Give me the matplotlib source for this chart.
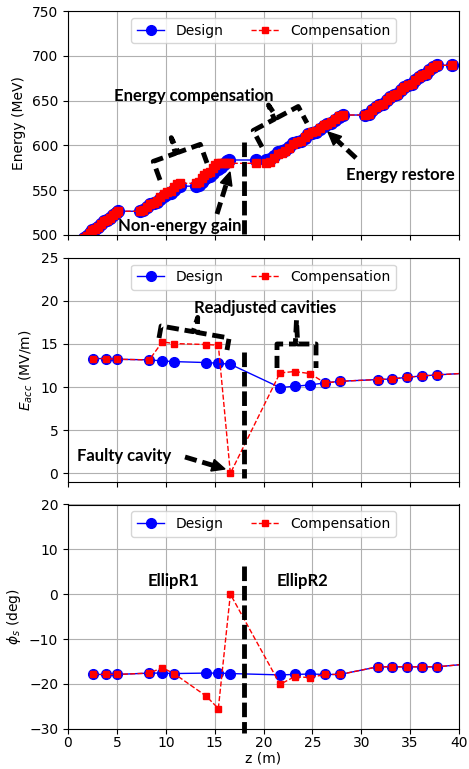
import numpy as np
import matplotlib.pyplot as plt
from matplotlib.lines import Line2D
from matplotlib.patches import Polygon

# cavity positions (m) and field / phase settings
cav_z = [2.59, 3.85, 5.05, 8.32, 9.65, 10.84, 14.12, 15.38, 16.61,
         21.69, 23.19, 24.76, 26.29, 27.83, 31.68, 33.18, 34.71, 36.25, 37.75, 41.2]
eacc_design = [13.3, 13.3, 13.22, 13.15, 13.03, 12.95, 12.84, 12.76, 12.64,
               9.94, 10.09, 10.25, 10.48, 10.67, 10.87, 10.94, 11.14, 11.29, 11.41, 11.64]
eacc_comp = [13.3, 13.3, 13.22, 13.15, 15.24, 15.04, 14.93, 14.85, 0.0,
             11.64, 11.8, 11.56, 10.48, 10.67, 10.87, 10.94, 11.14, 11.29, 11.41, 11.64]
phase_design = [-17.9, -17.9, -17.9, -17.6, -17.6, -17.7, -17.6, -17.6, -17.7,
                -18.0, -17.9, -17.8, -17.9, -17.9, -16.2, -16.2, -16.2, -16.2, -16.2, -15.5]
phase_comp = [-17.9, -17.9, -17.9, -17.6, -16.4, -17.7, -22.7, -25.5, 0.0,
              -20.1, -18.4, -18.6, -17.9, -17.9, -16.2, -16.2, -16.2, -16.2, -16.2, -15.5]

# beam energy along the linac, one block per cryomodule
z_m1 = [1.6, 1.9, 2.2, 2.5, 2.8, 3.1, 3.4, 3.7, 4.0, 4.3, 4.6, 4.9, 5.15]
e_m1 = [497.0, 498.5, 502.0, 505.5, 507.0, 508.5, 512.0, 515.5, 517.0, 518.5, 522.0, 525.0, 526.5]
z_m2 = [7.35, 7.7, 8.05, 8.4, 8.75, 9.1, 9.45, 9.8, 10.15, 10.5, 10.85, 11.2, 11.5]
e_m2_design = [526.5, 528.0, 531.3, 534.5, 535.9, 537.3, 540.6, 543.9, 545.3, 546.7, 550.0, 553.3, 554.5]
e_m2_comp = [526.5, 528.0, 531.3, 534.5, 536.2, 537.9, 541.9, 545.9, 547.6, 549.3, 553.3, 557.0, 557.7]
z_m3 = [13.1, 13.38, 13.67, 13.95, 14.23, 14.52, 14.8, 15.08, 15.37, 15.65, 15.93, 16.22, 16.5]
e_m3_design = [554.5, 556.0, 559.4, 562.7, 564.2, 565.7, 569.1, 572.4, 573.9, 575.4, 578.8, 582.1, 583.7]
e_m3_comp = [557.7, 559.4, 563.3, 567.2, 568.9, 570.6, 574.5, 578.4, 580.0, 580.0, 580.0, 580.0, 580.0]
z_gap = [19.2]
e_gap_design = [583.7]
e_gap_comp = [580.0]
z_m4 = [20.3, 20.69, 21.08, 21.47, 21.86, 22.25, 22.64, 23.03, 23.42, 23.81, 24.2,
        24.59, 24.98, 25.37, 25.76, 26.15, 26.54, 26.93, 27.32, 27.71, 28.1]
e_m4_design = [583.7, 585.2, 588.7, 592.2, 593.7, 595.2, 598.7, 602.2, 603.7, 605.2, 608.7,
               612.2, 613.7, 615.2, 618.7, 622.2, 623.7, 625.2, 628.7, 632.2, 633.9]
e_m4_comp = [580.0, 581.7, 585.8, 589.9, 591.6, 593.4, 597.5, 601.6, 603.3, 605.0, 609.1,
             613.1, 614.8, 616.2, 619.6, 623.0, 624.4, 625.8, 629.2, 632.6, 633.9]
z_m5 = [30.4, 30.77, 31.13, 31.5, 31.86, 32.23, 32.59, 32.96, 33.32, 33.69, 34.05,
        34.42, 34.78, 35.15, 35.51, 35.88, 36.24, 36.61, 36.97, 37.34, 37.7, 39.25]
e_m5 = [633.9, 635.6, 639.5, 643.3, 645.0, 646.7, 650.6, 654.4, 656.1, 657.8, 661.7,
        665.5, 667.2, 668.9, 672.8, 676.6, 678.3, 680.0, 683.9, 687.7, 689.4, 689.4]

z_energy = z_m1 + z_m2 + z_m3 + z_gap + z_m4 + z_m5
energy_design = e_m1 + e_m2_design + e_m3_design + e_gap_design + e_m4_design + e_m5
energy_comp = e_m1 + e_m2_comp + e_m3_comp + e_gap_comp + e_m4_comp + e_m5

z_split = 18.0  # EllipR1 / EllipR2 boundary

W, H = 469, 769
fig = plt.figure(figsize=(W / 100, H / 100), dpi=100)


def box(x0, y0, x1, y1):
    return [x0 / W, 1 - y1 / H, (x1 - x0) / W, (y1 - y0) / H]


ax1 = fig.add_axes(box(68, 11, 459, 235))
ax2 = fig.add_axes(box(68, 257.6, 459, 482), sharex=ax1)
ax3 = fig.add_axes(box(68, 504.5, 459, 728.7), sharex=ax1)

design_kw = dict(color='blue', ls='-', lw=1.0, marker='o', ms=7, label='Design')
comp_kw = dict(color='red', ls='--', lw=1.0, marker='s', ms=4, label='Compensation')

# energy trace is densely sampled, so the markers merge into a band
ax1.plot(z_energy, energy_design, **{**design_kw, 'ms': 8.5})
ax1.plot(z_energy, energy_comp, **{**comp_kw, 'ms': 6})
ax2.plot(cav_z, eacc_design, **design_kw)
ax2.plot(cav_z, eacc_comp, **comp_kw)
ax3.plot(cav_z, phase_design, **design_kw)
ax3.plot(cav_z, phase_comp, **comp_kw)

ax1.set_ylim(500, 750)
ax1.set_yticks(range(500, 751, 50))
ax2.set_ylim(-1, 25)
ax2.set_yticks(range(0, 26, 5))
ax3.set_ylim(-30, 20)
ax3.set_yticks(range(-30, 21, 10))
ax3.set_xlim(0, 40)
ax3.set_xticks(range(0, 41, 5))

ax1.set_ylabel('Energy (MeV)')
ax2.set_ylabel(r'$E_{acc}$ (MV/m)')
ax3.set_ylabel(r'$\phi_s$ (deg)')
ax3.set_xlabel('z (m)', labelpad=1)
ax3.tick_params(axis='x', pad=2)

handles = [Line2D([], [], **design_kw), Line2D([], [], **comp_kw)]
for ax in (ax1, ax2):
    ax.tick_params(labelbottom=False)
for ax in (ax1, ax2, ax3):
    ax.grid(True)
    ax.legend(handles=handles, loc='upper center', ncol=2, fontsize=10)

# section boundary
split_kw = dict(color='k', lw=3.5, ls=(0, (3, 1)), clip_on=False, zorder=5)
ax1.plot([z_split, z_split], [604, 501], **split_kw)
ax2.plot([z_split, z_split], [14.1, -0.5], **split_kw)
ax3.plot([z_split, z_split], [6.3, -31], **split_kw)


# annotation shapes, placed in figure pixels (y downwards)
def fig_pt(p):
    return p[0] / W, 1 - p[1] / H


def dashed(points, lw=3.5):
    xs, ys = zip(*[fig_pt(p) for p in points])
    fig.add_artist(Line2D(xs, ys, transform=fig.transFigure, color='k', lw=lw,
                          ls=(0, (2.5, 1.2)), zorder=6))


def brace(p0, p1, h, arm=0.5):
    p0, p1 = np.array(p0, float), np.array(p1, float)
    d = p1 - p0
    L = np.hypot(*d)
    u = d / L
    n = np.array([u[1], -u[0]])
    shape = [(0, 0), (0, arm), (0.47, arm), (0.5, 1), (0.53, arm), (1, arm), (1, 0)]
    dashed([p0 + u * a * L + n * b * h for a, b in shape])


def arrow(tail, tip, hl=13, hw=12):
    tail, tip = np.array(tail, float), np.array(tip, float)
    d = tip - tail
    u = d / np.hypot(*d)
    n = np.array([-u[1], u[0]])
    base = tip - u * hl
    dashed([tail, base + u * 2])
    tri = [fig_pt(p) for p in (tip, base + n * hw / 2, base - n * hw / 2)]
    fig.add_artist(Polygon(tri, closed=True, transform=fig.transFigure,
                           color='k', zorder=6))


def note(x, y, s):
    fig.text(x / W, 1 - y / H, s, ha='center', va='center', fontsize=12,
             fontweight='bold', family=['Lato', 'DejaVu Sans'], zorder=7)


brace((160, 180), (207, 163), 36, arm=0.55)
brace((262, 147), (307, 123), 34, arm=0.55)
brace((159, 338), (227, 350), 27, arm=0.45)
brace((277, 368), (316, 368), 48, arm=0.5)

arrow((217, 214), (230, 172))
arrow((356, 158), (328, 132))
arrow((185, 457), (225, 469))

note(194, 96, 'Energy compensation')
note(180, 226, 'Non-energy gain')
note(400, 175, 'Energy restore')
note(265, 308, 'Readjusted cavities')
note(124, 456, 'Faulty cavity')
note(173, 581, 'EllipR1')
note(302, 581, 'EllipR2')

fig.savefig('out.png', dpi=100)
